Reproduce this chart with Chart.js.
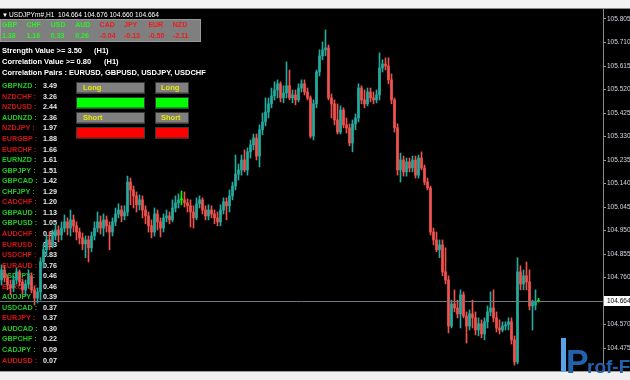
<!DOCTYPE html>
<html><head><meta charset="utf-8">
<script src="https://cdn.jsdelivr.net/npm/chart.js@4"></script>
<style>html,body{margin:0;padding:0;background:#000;overflow:hidden}canvas{display:block}</style>
</head><body>
<canvas id="c" width="630" height="380"></canvas>
<script>
const symbol = 'USDJPYm#,H1';
const open = [
104.750,104.791,104.759,104.730,104.718,104.750,104.783,104.742,104.710,104.734,
104.767,104.710,104.677,104.702,104.823,104.872,104.912,104.892,104.928,104.952,
104.932,104.960,104.985,104.960,104.993,104.969,104.944,104.920,104.896,104.912,
104.880,104.928,104.960,104.985,104.960,104.993,104.969,104.944,104.985,105.017,
105.033,105.009,105.025,105.146,105.114,105.090,105.054,105.074,105.033,105.009,
104.969,104.944,105.017,104.985,104.960,105.001,105.009,104.993,105.041,105.062,
105.074,105.074,105.062,105.050,105.025,105.001,105.058,105.074,105.033,105.009,
105.033,105.017,105.001,104.985,105.033,105.066,105.050,105.090,105.130,105.178,
105.195,105.235,105.195,105.268,105.296,105.324,105.251,105.357,105.389,105.429,
105.462,105.494,105.518,105.543,105.486,105.506,105.535,105.486,105.498,105.478,
105.526,105.543,105.510,105.486,105.332,105.462,105.591,105.656,105.680,105.688,
105.486,105.462,105.397,105.348,105.437,105.377,105.365,105.304,105.381,105.405,
105.526,105.478,105.462,105.510,105.486,105.478,105.498,105.607,105.623,105.615,
105.559,105.478,105.365,105.195,105.235,105.187,105.227,105.203,105.235,105.174,
105.243,105.203,105.146,105.122,104.944,104.912,104.872,104.892,104.783,104.750,
104.564,104.653,104.637,104.613,104.690,104.605,104.564,104.613,104.597,104.548,
104.573,104.532,104.581,104.621,104.637,104.597,104.556,104.548,104.564,104.569,
104.581,104.508,104.419,104.783,104.734,104.767,104.742,104.645,104.649,104.664];
const high = [
104.811,104.807,104.771,104.750,104.767,104.799,104.791,104.754,104.750,104.791,
104.779,104.726,104.718,104.840,104.892,104.932,104.944,104.952,104.977,104.969,
104.985,105.013,105.001,105.033,105.013,104.985,104.960,104.940,104.928,104.928,
104.944,104.985,105.025,105.009,105.017,105.009,104.985,105.001,105.041,105.058,
105.050,105.050,105.170,105.162,105.130,105.106,105.094,105.090,105.050,105.025,
104.993,105.041,105.033,105.001,105.017,105.033,105.025,105.074,105.090,105.098,
105.110,105.106,105.078,105.074,105.050,105.082,105.090,105.082,105.050,105.054,
105.050,105.033,105.025,105.054,105.082,105.082,105.114,105.146,105.255,105.219,
105.255,105.276,105.284,105.316,105.340,105.340,105.377,105.425,105.486,105.486,
105.526,105.551,105.559,105.551,105.535,105.632,105.599,105.518,105.518,105.543,
105.559,105.559,105.526,105.494,105.478,105.599,105.680,105.712,105.761,105.700,
105.502,105.478,105.462,105.454,105.446,105.405,105.381,105.397,105.421,105.543,
105.535,105.518,105.526,105.526,105.510,105.518,105.668,105.640,105.648,105.648,
105.583,105.486,105.381,105.263,105.251,105.243,105.243,105.251,105.251,105.255,
105.268,105.215,105.162,105.130,104.960,104.944,104.912,104.912,104.880,104.767,
104.669,104.710,104.669,104.710,104.702,104.621,104.629,104.669,104.621,104.597,
104.589,104.597,104.645,104.702,104.710,104.621,104.589,104.581,104.581,104.597,
104.597,104.524,104.840,104.807,104.791,104.823,104.791,104.669,104.710,104.676];
const low = [
104.730,104.742,104.710,104.690,104.702,104.734,104.726,104.694,104.686,104.718,
104.698,104.649,104.657,104.669,104.799,104.852,104.872,104.880,104.912,104.904,
104.912,104.944,104.932,104.928,104.944,104.912,104.896,104.872,104.840,104.823,
104.864,104.912,104.944,104.936,104.928,104.944,104.872,104.928,104.969,105.001,
104.985,104.993,105.009,105.054,105.041,105.025,105.033,105.001,104.977,104.944,
104.920,104.928,104.952,104.924,104.944,104.985,104.977,104.985,105.025,105.041,
105.054,105.045,105.025,104.964,104.960,104.993,105.041,105.017,104.993,104.993,
105.001,104.977,104.969,104.969,105.017,104.993,105.025,105.074,105.114,105.154,
105.174,105.187,105.174,105.243,105.276,105.235,105.207,105.337,105.373,105.405,
105.446,105.478,105.486,105.470,105.466,105.486,105.478,105.466,105.458,105.470,
105.510,105.498,105.478,105.324,105.316,105.446,105.575,105.640,105.656,105.478,
105.405,105.377,105.340,105.340,105.365,105.344,105.292,105.268,105.357,105.389,
105.462,105.446,105.454,105.470,105.462,105.466,105.478,105.591,105.599,105.543,
105.462,105.348,105.174,105.146,105.170,105.170,105.187,105.187,105.162,105.162,
105.195,105.134,105.114,104.932,104.892,104.864,104.840,104.767,104.734,104.536,
104.556,104.621,104.597,104.556,104.597,104.495,104.548,104.556,104.528,104.524,
104.516,104.508,104.556,104.605,104.581,104.540,104.532,104.540,104.548,104.548,
104.491,104.406,104.411,104.710,104.710,104.710,104.629,104.548,104.629,104.660];
const close = [
104.791,104.759,104.730,104.718,104.750,104.783,104.742,104.710,104.734,104.767,
104.710,104.677,104.702,104.823,104.872,104.912,104.892,104.928,104.952,104.932,
104.960,104.985,104.960,104.993,104.969,104.944,104.920,104.896,104.912,104.880,
104.928,104.960,104.985,104.960,104.993,104.969,104.944,104.985,105.017,105.033,
105.009,105.025,105.146,105.114,105.090,105.054,105.074,105.033,105.009,104.969,
104.944,105.017,104.985,104.960,105.001,105.009,104.993,105.041,105.062,105.074,
105.074,105.062,105.050,105.025,105.001,105.058,105.074,105.033,105.009,105.033,
105.017,105.001,104.985,105.033,105.066,105.050,105.090,105.130,105.178,105.195,
105.235,105.195,105.268,105.296,105.324,105.251,105.357,105.389,105.429,105.462,
105.494,105.518,105.543,105.486,105.506,105.535,105.486,105.498,105.478,105.526,
105.543,105.510,105.486,105.332,105.462,105.591,105.656,105.680,105.688,105.486,
105.462,105.397,105.348,105.437,105.377,105.365,105.304,105.381,105.405,105.526,
105.478,105.462,105.510,105.486,105.478,105.498,105.607,105.623,105.615,105.559,
105.478,105.365,105.195,105.235,105.187,105.227,105.203,105.235,105.174,105.243,
105.203,105.146,105.122,104.944,104.912,104.872,104.892,104.783,104.750,104.564,
104.653,104.637,104.613,104.690,104.605,104.564,104.613,104.597,104.548,104.573,
104.532,104.581,104.621,104.637,104.597,104.556,104.548,104.564,104.569,104.581,
104.508,104.419,104.783,104.734,104.767,104.742,104.645,104.661,104.664,104.664];
const priceTicks = [105.805,105.710,105.615,105.520,105.425,105.330,105.235,105.140,105.045,104.950,104.855,104.760,104.570,104.475];

const currencies = ['GBP','CHF','USD','AUD','CAD','JPY','EUR','NZD'];
const strength = [1.38,1.16,0.33,0.26,-0.04,-0.13,-0.50,-2.11];

const pairs = ['GBPNZD','NZDCHF','NZDUSD','AUDNZD','NZDJPY','EURGBP','EURCHF','EURNZD','GBPJPY','GBPCAD','CHFJPY','CADCHF','GBPAUD','GBPUSD','AUDCHF','EURUSD','USDCHF','EURAUD','USDJPY','EURCAD','AUDJPY','USDCAD','EURJPY','AUDCAD','GBPCHF','CADJPY','AUDUSD'];
const pairValues = [3.49,3.26,2.44,2.36,1.97,1.88,1.66,1.61,1.51,1.42,1.29,1.20,1.13,1.05,0.90,0.83,0.83,0.76,0.46,0.46,0.39,0.37,0.37,0.30,0.22,0.09,0.07];
const pairUp = [1,0,0,1,0,0,0,1,1,1,1,0,1,1,0,0,0,0,1,0,1,1,0,1,1,1,0];

const infoLines = ['Strength Value >= 3.50','Correlation Value >= 0.80','Correlation Pairs : EURUSD, GBPUSD, USDJPY, USDCHF'];
const infoTf = ['(H1)','(H1)',''];

const BULL = '#24ab9e', BEAR = '#f0524e', DOJI = '#00ff00';
const idx = open.map((_, i) => i);
const colorOf = i => close[i] > open[i] ? BULL : (close[i] < open[i] ? BEAR : DOJI);
const last = open.length - 1;
const bid = close[last];
const FONT = '"Liberation Sans","DejaVu Sans",Arial,sans-serif';

const overlay = {
  id: 'mt4',
  beforeDraw(chart) {
    const c = chart.ctx;
    c.save(); c.fillStyle = '#000'; c.fillRect(0, 0, chart.width, chart.height); c.restore();
  },
  beforeDatasetsDraw(chart) {
    const c = chart.ctx;
    c.save();
    c.textBaseline = 'middle';
    // title
    c.fillStyle = '#ffffff';
    c.font = '6px ' + FONT;
    c.fillText('\u25BC', 2, 15);
    c.font = '6.6px ' + FONT;
    c.fillText(symbol + '  ' + [open[last], high[last], low[last], close[last]].map(v => v.toFixed(3)).join(' '), 9, 15);
    // strength panel
    c.fillStyle = '#7f7f7f';
    c.fillRect(0, 19, 201, 23);
    c.strokeStyle = '#9a9a9a'; c.lineWidth = 1;
    c.strokeRect(0.5, 19.5, 200, 22);
    c.font = 'bold 7px ' + FONT;
    currencies.forEach((cur, k) => {
      const x = 2 + k * 24.4;
      c.fillStyle = strength[k] >= 0 ? '#2cf02c' : '#ee1c1c';
      c.fillText(cur, x, 25.5);
      c.fillText(strength[k].toFixed(2), x, 36);
    });
    // info lines
    c.fillStyle = '#ffffff';
    c.font = 'bold 7.5px ' + FONT;
    infoLines.forEach((t, k) => {
      const y = 50.7 + k * 11;
      c.fillText(t, 2, y);
      if (infoTf[k]) c.fillText(infoTf[k], k === 0 ? 94 : 104, y);
    });
    // pairs list
    c.font = 'bold 7.2px ' + FONT;
    pairs.forEach((p, k) => {
      const y = 86.3 + k * 10.55;
      c.fillStyle = pairUp[k] ? '#1ec81e' : '#d21414';
      c.fillText(p + ' :', 2, y);
      c.fillStyle = '#e6e6e6';
      c.fillText(pairValues[k].toFixed(2), 43, y);
    });
    // buttons
    const boxes = [[76, 69], [155, 34]];
    const rows = [
      {y: 82, fill: '#808080', text: 'Long'},
      {y: 97, fill: '#00ff00', text: ''},
      {y: 112, fill: '#808080', text: 'Short'},
      {y: 127, fill: '#ff0000', text: ''}
    ];
    c.font = 'bold 7.5px ' + FONT;
    rows.forEach(r => {
      boxes.forEach(([bx, bw]) => {
        c.fillStyle = r.fill;
        c.fillRect(bx, r.y, bw, 11.5);
        c.strokeStyle = '#3a3a3a';
        c.strokeRect(bx + 0.5, r.y + 0.5, bw - 1, 10.5);
        if (r.text) {
          c.fillStyle = '#e8e800';
          c.fillText(r.text, bx + (bw > 40 ? 7 : 6), r.y + 6);
        }
      });
    });
    c.restore();
  },
  afterDatasetsDraw(chart) {
    const c = chart.ctx, ys = chart.scales.y, a = chart.chartArea;
    const y = Math.round(ys.getPixelForValue(bid)) + 0.5;
    c.save();
    c.strokeStyle = '#6f7780'; c.lineWidth = 1;
    c.beginPath(); c.moveTo(a.left, y); c.lineTo(a.right, y); c.stroke();
    c.restore();
  },
  afterDraw(chart) {
    const c = chart.ctx, ys = chart.scales.y, a = chart.chartArea;
    const y = ys.getPixelForValue(bid);
    c.save();
    c.fillStyle = '#ffffff';
    c.fillRect(a.right + 1, Math.round(y) - 5, 27, 10);
    c.fillStyle = '#000';
    c.font = '6.5px ' + FONT;
    c.textBaseline = 'middle';
    c.fillText(bid.toFixed(3), a.right + 4, Math.round(y) + 0.5);
    // frame strips
    c.fillStyle = '#f2f2f2';
    c.fillRect(0, 0, chart.width, 9);
    c.fillStyle = '#8a8a8a';
    c.fillRect(0, 8, chart.width, 1);
    c.fillStyle = '#f0f0f0';
    c.fillRect(0, 371, chart.width, 9);
    c.fillStyle = '#9a9a9a';
    c.fillRect(0, 371, chart.width, 1);
    // watermark
    c.textBaseline = 'alphabetic';
    c.fillStyle = '#5aa2e6';
    c.fillRect(561, 338, 5, 34);
    c.fillStyle = '#2262ad';
    c.font = 'bold 34px ' + FONT;
    c.fillText('P', 566, 373);
    c.font = 'bold 19px ' + FONT;
    c.fillText('rof-Fx', 587, 373);
    c.restore();
  }
};

new Chart(document.getElementById('c'), {
  type: 'bar',
  data: {
    datasets: [
      {label: 'body', data: idx.map(i => ({x: i, y: [open[i], close[i]]})), backgroundColor: idx.map(colorOf), barThickness: 2, minBarLength: 1, grouped: false, order: 0},
      {label: 'wick', data: idx.map(i => ({x: i, y: [low[i], high[i]]})), backgroundColor: idx.map(colorOf), barThickness: 1, grouped: false, order: 1}
    ]
  },
  options: {
    responsive: false, animation: false, devicePixelRatio: 1,
    layout: {padding: {top: 9, bottom: 9, left: 0, right: 0}},
    plugins: {legend: {display: false}, tooltip: {enabled: false}},
    scales: {
      x: {type: 'linear', min: -0.5, max: 200.5, offset: false, display: false},
      y: {
        position: 'right', min: 104.3822, max: 105.8454,
        afterBuildTicks: s => { s.ticks = priceTicks.map(v => ({value: v})); },
        afterFit: s => { s.width = 27; },
        grid: {drawOnChartArea: false, drawTicks: true, tickLength: 3, color: '#9a9a9a'},
        border: {display: true, color: '#8a8a8a'},
        ticks: {padding: 1, color: '#d4d8e0', font: {size: 6.5, family: FONT}, callback: v => Number(v).toFixed(3)}
      }
    }
  },
  plugins: [overlay]
});
</script>
</body></html>
